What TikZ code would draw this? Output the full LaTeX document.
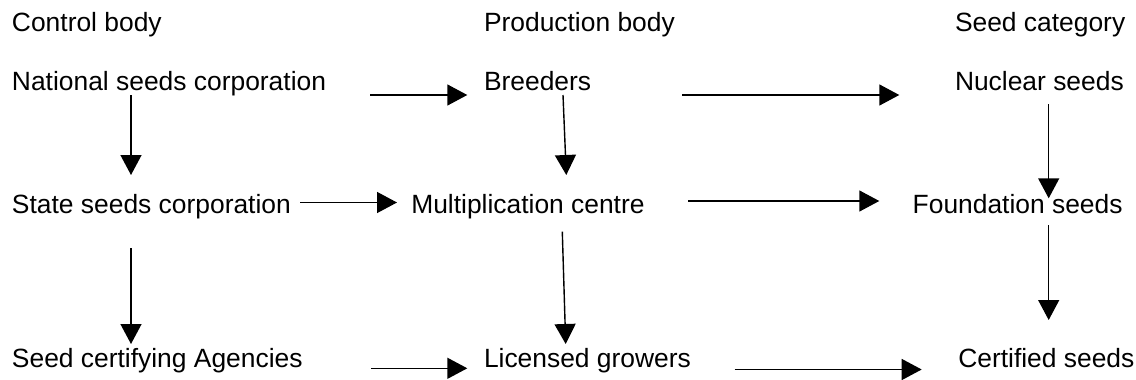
\documentclass[tikz,border=0pt]{standalone}
\usepackage{fontspec}
\setmainfont{Liberation Sans}
\usetikzlibrary{arrows.meta,calc}
\begin{document}
\begin{tikzpicture}[x=1pt,y=-1pt,
  lbl/.style={anchor=base west,inner sep=0pt,outer sep=0pt,font=\fontsize{26.4}{30}\selectfont},
  arr/.style={line width=1.4pt,-{Triangle[length=20pt,width=21pt]}}]
\fill[white] (0,0) rectangle (1136,380);
\useasboundingbox (0,0) rectangle (1136,380);
% headers
\node[lbl] (hc) at (12,31.7) {Control body};
\node[lbl] (hp) at (484,31.7) {Production body};
\node[lbl] (hs) at (955,31.7) {Seed category};
% row 1
\node[lbl] (nat) at (12,90.7) {National seeds corporation};
\node[lbl] (bre) at (484,90.7) {Breeders};
\node[lbl] (nuc) at (955,90.7) {Nuclear seeds};
% row 2
\node[lbl] (sta) at (12,213.5) {State seeds corporation};
\node[lbl] (mul) at (411.3,213.5) {Multiplication centre};
\node[lbl] (fou) at (912.7,213.5) {Foundation seeds};
% row 3
\node[lbl] (cer) at (12,367.5) {Seed certifying Agencies};
\node[lbl] (lic) at (484,367.5) {Licensed growers};
\node[lbl] (cfd) at (958.3,367.5) {Certified seeds};
% horizontal connectors
\draw[arr] ($(nat.base east)+(44,4.3)$) -- ($(bre.base west)+(-16.7,4.3)$);
\draw[arr] ($(bre.base east)+(91.2,4.3)$) -- ($(nuc.base west)+(-55.7,4.3)$);
\draw[arr] ($(sta.base east)+(9.2,-11)$) -- ($(mul.base west)+(-14.3,-11)$);
\draw[arr] ($(mul.base east)+(43.4,-12.5)$) -- ($(fou.base west)+(-33.4,-12.5)$);
\draw[arr] ($(cer.base east)+(68.5,0.8)$) -- ($(lic.base west)+(-16.7,0.8)$);
\draw[arr] ($(lic.base east)+(43.8,2)$) -- ($(cfd.base west)+(-36.6,2)$);
% vertical connectors
\draw[arr] ($(nat.base west)+(119,4.3)$) -- ($(sta.base west)+(119,-38.5)$);
\draw[arr] ($(bre.base west)+(79,4.3)$) -- ($(mul.base west)+(155,-38.5)$);
\draw[arr] ($(nuc.base west)+(93.7,13.3)$) -- ($(fou.base west)+(136,-15.2)$);
\draw[arr] ($(sta.base west)+(119,34.8)$) -- ($(cer.base west)+(119,-23.5)$);
\draw[arr] ($(mul.base west)+(151,18.2)$) -- ($(lic.base west)+(81.7,-23.5)$);
\draw[arr] ($(fou.base west)+(136,11.5)$) -- ($(cfd.base west)+(90.4,-47.5)$);
\end{tikzpicture}
\end{document}
